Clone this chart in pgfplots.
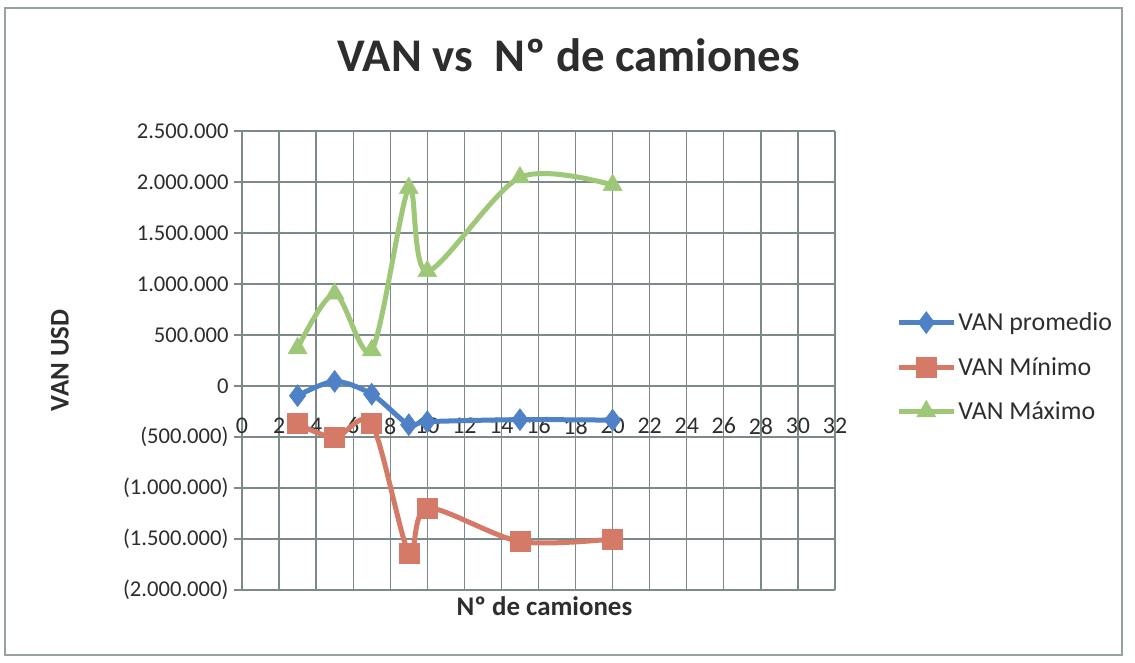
\documentclass[border=0pt]{standalone}
\usepackage{pgfplots}
\pgfplotsset{compat=1.18}
\usepackage{fontspec}
\setmainfont{Carlito}
\definecolor{vblue}{RGB}{79,129,199}
\definecolor{vred}{RGB}{214,122,104}
\definecolor{vgreen}{RGB}{158,200,120}
\definecolor{gridc}{RGB}{125,138,138}
\definecolor{txt}{RGB}{45,45,45}

\pgfplotstableread{
x y
3 -95000
5 45000
7 -80000
9 -380000
10 -350000
15 -330000
20 -335000
}\tblavg
\pgfplotstableread{
x y
3 -370000
5 -505000
7 -370000
9 -1635000
10 -1195000
15 -1525000
20 -1500000
}\tblmin
\pgfplotstableread{
x y
3 370000
5 905000
7 350000
9 1940000
10 1125000
15 2045000
20 1970000
}\tblmax

\begin{document}
\begin{tikzpicture}
\path[use as bounding box] (0,0) rectangle (1135bp,663bp);
\draw[gridc!80, line width=1.5bp] (5bp,8bp) rectangle (1122bp,655bp);
\begin{axis}[
  at={(242bp,73bp)}, anchor=south west,
  scale only axis, width=593bp, height=459bp,
  xmin=0, xmax=32, ymin=-2000000, ymax=2500000,
  xtick={0,2,4,6,8,10,12,14,16,18,20,22,24,26,28,30,32},
  ytick={-2000000,-1500000,-1000000,-500000,0,500000,1000000,1500000,2000000,2500000},
  yticklabels={(2.000.000),(1.500.000),(1.000.000),(500.000),0,500.000,1.000.000,1.500.000,2.000.000,2.500.000},
  scaled y ticks=false,
  axis x line=middle, axis y line=left,
  hide obscured x ticks=false,
  axis line style={-, gridc, line width=1.3bp},
  grid=major, grid style={gridc, line width=1.3bp},
  x tick style={draw=none},
  y tick style={gridc, line width=1.3bp},
  tick align=outside, major tick length=8bp,
  /pgf/number format/assume math mode=true,
  tick label style={font=\fontsize{22.7}{27}\selectfont, text=txt},
  xticklabel style={anchor=center, yshift=-32bp, font=\fontsize{24}{28}\selectfont},
  yticklabel style={anchor=east, xshift=-2bp},
  xlabel={Nº de camiones},
  ylabel={VAN USD},
  xlabel style={at={(axis description cs:0.51,0)}, anchor=north, yshift=-3bp, font=\fontsize{27}{32}\selectfont\bfseries, text=txt},
  ylabel style={at={(axis description cs:-0.307,0.5)}, anchor=center, font=\fontsize{27}{32}\selectfont\bfseries, text=txt},
  title={VAN vs\ \ Nº de camiones},
  title style={at={(axis description cs:0.551,1.152)}, anchor=center, font=\fontsize{47}{56}\selectfont\bfseries, text=txt},
  legend style={at={(axis description cs:1.098,0.486)}, anchor=west, draw=none, fill=none,
    font=\fontsize{26}{31}\selectfont, text=txt, row sep=21bp, cells={anchor=west}},
  legend image code/.code={\draw[#1,mark repeat=2,mark phase=2] plot coordinates {(0bp,0bp) (27.5bp,0bp) (55bp,0bp)};},
  every axis plot/.append style={line width=5bp, smooth, tension=0.5},
  clip=false,
]
\addplot[vblue, mark=diamond*, mark size=11bp, mark options={line width=0.5bp}] table[x=x,y=y] {\tblavg};
\addlegendentry{VAN promedio}
\addplot[vred, mark=square*, mark size=10bp, mark options={line width=0.5bp}] table[x=x,y=y] {\tblmin};
\addlegendentry{VAN Mínimo}
\addplot[vgreen, mark=triangle*, mark size=11bp, mark options={line width=0.5bp}] table[x=x,y=y] {\tblmax};
\addlegendentry{VAN Máximo}
\end{axis}
\end{tikzpicture}
\end{document}
